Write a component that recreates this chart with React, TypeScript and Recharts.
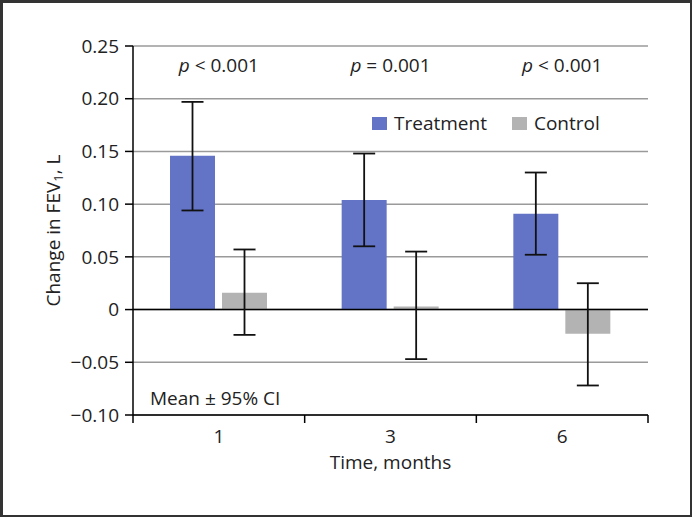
import { BarChart, Bar, XAxis, YAxis, CartesianGrid, ReferenceLine, ErrorBar, Legend } from 'recharts';

const months = ['1', '3', '6'];
const treatment = [0.146, 0.104, 0.091];
const treatmentLow = [0.094, 0.060, 0.052];
const treatmentHigh = [0.197, 0.148, 0.130];
const control = [0.016, 0.003, -0.023];
const controlLow = [-0.024, -0.047, -0.072];
const controlHigh = [0.057, 0.055, 0.025];
const pSigns = ['<', '=', '<'];
const pValues = ['0.001', '0.001', '0.001'];
const yTicks = [-0.1, -0.05, 0, 0.05, 0.1, 0.15, 0.2, 0.25];

const W = 692;
const H = 517;
const MARGIN = { top: 26, right: 44, bottom: 42, left: 53 };
const TOP_AXIS_H = 20;
const Y_AXIS_W = 80;
const X_AXIS_H = 60;
const PLOT_W = W - MARGIN.left - MARGIN.right - Y_AXIS_W;
const FONT = '"Open Sans", sans-serif';
const BLUE = '#6374c7';
const GREY = '#b3b3b3';

const data = months.map((m, i) => ({
  month: m,
  p: pSigns[i] + ' ' + pValues[i],
  treatment: treatment[i],
  control: control[i],
  tErr: [treatment[i] - treatmentLow[i], treatmentHigh[i] - treatment[i]],
  cErr: [control[i] - controlLow[i], controlHigh[i] - control[i]],
}));

function fmtY(v: number) {
  if (Math.abs(v) < 1e-9) return '0';
  const s = Math.abs(v).toFixed(2);
  return v < 0 ? '\u2212' + s : s;
}

function XTick(props: any) {
  const { x, y, payload, index } = props;
  const half = PLOT_W / months.length / 2;
  return (
    <g>
      <line x1={x - half} y1={y} x2={x - half} y2={y + 8} stroke="#000" strokeWidth={1.5} />
      {index === months.length - 1 && (
        <line x1={x + half} y1={y} x2={x + half} y2={y + 8} stroke="#000" strokeWidth={1.5} />
      )}
      <text x={x} y={y + 28} textAnchor="middle" fontSize={19} fontFamily={FONT} fill="#222">
        {payload.value}
      </text>
    </g>
  );
}

function PTick(props: any) {
  const { x, y, index } = props;
  return (
    <text x={x} y={y + 26} textAnchor="middle" fontSize={19} fontFamily={FONT} fill="#222">
      <tspan fontStyle="italic">p</tspan>
      <tspan> {pSigns[index]} {pValues[index]}</tspan>
    </text>
  );
}

function YLabel(props: any) {
  const vb = props.viewBox || { x: MARGIN.left, y: 46, height: 369 };
  const cx = vb.x;
  const cy = vb.y + vb.height / 2;
  return (
    <text
      x={cx}
      y={cy}
      transform={`rotate(-90, ${cx}, ${cy})`}
      textAnchor="middle"
      dominantBaseline="central"
      fontSize={19}
      fontFamily={FONT}
      fill="#222"
    >
      Change in FEV<tspan fontSize={13} dy={5}>1</tspan>
      <tspan dy={-5}>, L</tspan>
    </text>
  );
}

function MeanLabel(props: any) {
  const vb = props.viewBox || { x: MARGIN.left + Y_AXIS_W, y: 415 };
  return (
    <text x={vb.x + 17} y={vb.y - 10} fontSize={19} fontFamily={FONT} fill="#222">
      Mean ± 95% CI
    </text>
  );
}

function LegendBox() {
  const items = [
    { name: 'Treatment', color: BLUE },
    { name: 'Control', color: GREY },
  ];
  return (
    <div style={{ display: 'flex', alignItems: 'center', fontFamily: FONT, fontSize: 19, color: '#222' }}>
      {items.map((it, i) => (
        <div key={it.name} style={{ display: 'flex', alignItems: 'center', marginRight: i === 0 ? 25 : 0 }}>
          <span style={{ width: 15, height: 13, background: it.color, display: 'inline-block', marginRight: 7 }} />
          <span style={{ lineHeight: '22px' }}>{it.name}</span>
        </div>
      ))}
    </div>
  );
}

export default function App() {
  return (
    <div style={{ position: 'fixed', left: 0, top: 0, width: W, height: H, background: '#fff' }}>
      <BarChart width={W} height={H} data={data} margin={MARGIN} barSize={45} barGap={7}>
        <CartesianGrid vertical={false} stroke="#9a9a9a" strokeWidth={1.5} />
        <XAxis
          dataKey="month"
          height={X_AXIS_H}
          axisLine={{ stroke: '#000', strokeWidth: 1.5 }}
          tickLine={false}
          tickSize={0}
          tickMargin={0}
          interval={0}
          tick={<XTick />}
          label={{ value: 'Time, months', position: 'insideTop', offset: 41, fontSize: 19, fontFamily: FONT, fill: '#222' }}
        />
        <XAxis
          xAxisId="top"
          dataKey="p"
          orientation="top"
          height={TOP_AXIS_H}
          axisLine={false}
          tickLine={false}
          tickSize={0}
          tickMargin={0}
          interval={0}
          tick={<PTick />}
        />
        <YAxis
          width={Y_AXIS_W}
          domain={[-0.1, 0.25]}
          ticks={yTicks}
          interval={0}
          tickFormatter={fmtY}
          axisLine={{ stroke: '#000', strokeWidth: 1.5 }}
          tickLine={{ stroke: '#000', strokeWidth: 1.5 }}
          tickSize={8}
          tickMargin={6}
          tick={{ fontSize: 19, fontFamily: FONT, fill: '#222' }}
          label={<YLabel />}
        />
        <ReferenceLine y={0} stroke="#000" strokeWidth={1.5} />
        <ReferenceLine y={-0.1} stroke="none" label={<MeanLabel />} />
        <Legend
          layout="horizontal"
          verticalAlign="middle"
          align="center"
          content={<LegendBox />}
          wrapperStyle={{ position: 'absolute', left: 372, top: 112, width: 260, height: 22 }}
        />
        <Bar dataKey="treatment" name="Treatment" fill={BLUE} isAnimationActive={false}>
          <ErrorBar dataKey="tErr" direction="y" width={11} stroke="#111" strokeWidth={1.8} />
        </Bar>
        <Bar dataKey="control" name="Control" fill={GREY} isAnimationActive={false}>
          <ErrorBar dataKey="cErr" direction="y" width={11} stroke="#111" strokeWidth={1.8} />
        </Bar>
      </BarChart>
      <div
        style={{
          position: 'absolute',
          left: 0,
          top: 0,
          width: W,
          height: H,
          boxSizing: 'border-box',
          borderStyle: 'solid',
          borderColor: '#333',
          borderWidth: '3px 2px 2px 3px',
          pointerEvents: 'none',
        }}
      />
    </div>
  );
}
